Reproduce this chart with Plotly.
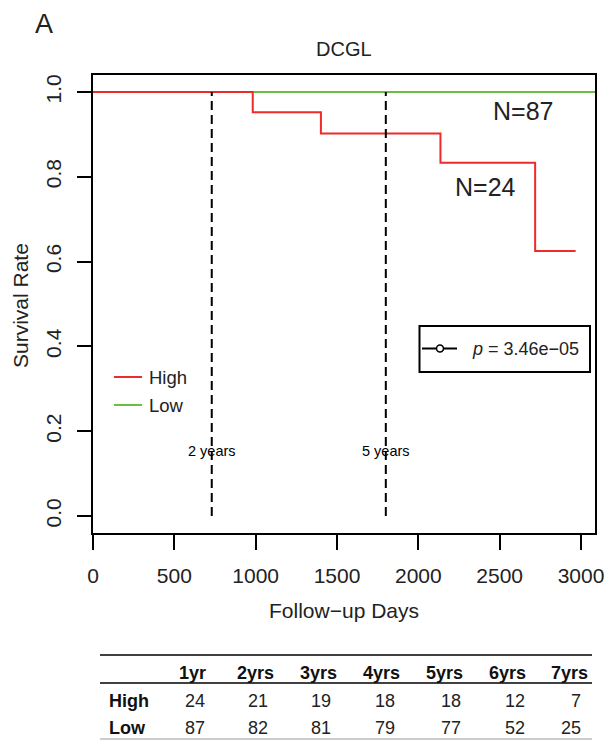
import plotly.graph_objects as go

# ---------------- data ----------------
high_days = [0, 982, 982, 1401, 1401, 2136, 2136, 2718, 2718, 2967]
high_surv = [1.0, 1.0, 0.952, 0.952, 0.902, 0.902, 0.833, 0.833, 0.625, 0.625]
low_days = [0, 3086]
low_surv = [1.0, 1.0]
ref_days = [730, 1800]
ref_labels = ["2 years", "5 years"]
n_labels = ["N=87", "N=24"]
p_text = "<i>p</i> = 3.46e−05"
x_ticks = [0, 500, 1000, 1500, 2000, 2500, 3000]
y_ticks = [0.0, 0.2, 0.4, 0.6, 0.8, 1.0]
table_cols = ["1yr", "2yrs", "3yrs", "4yrs", "5yrs", "6yrs", "7yrs"]
table_rows = ["High", "Low"]
table_high = [24, 21, 19, 18, 18, 12, 7]
table_low = [87, 82, 81, 79, 77, 52, 25]

RED = "#EE2A2A"
GREEN = "#6CBD45"
FONT = "Liberation Sans, Arial, sans-serif"

W, H = 609, 743
L, R, T, B = 93, 595, 75, 533  # plot box in pixels


def px2x(px):
    return (px - L) / (R - L)


def py2y(py):
    return (B - py) / (B - T)


fig = go.Figure()
fig.add_trace(go.Scatter(x=low_days, y=low_surv, mode="lines",
                         line=dict(color=GREEN, width=2), showlegend=False, hoverinfo="skip"))
fig.add_trace(go.Scatter(x=high_days, y=high_surv, mode="lines",
                         line=dict(color=RED, width=2), showlegend=False, hoverinfo="skip"))

shapes = []
annotations = []

# reference dashed lines
for d, lab in zip(ref_days, ref_labels):
    shapes.append(dict(type="line", xref="x", yref="y", x0=d, x1=d, y0=0, y1=1,
                       line=dict(color="black", width=2, dash="9px,5px")))
    annotations.append(dict(x=d, y=0.153, xref="x", yref="y", text=lab, showarrow=False,
                            font=dict(size=14.5, family=FONT, color="black"),
                            xanchor="center", yanchor="middle"))

# N labels
annotations.append(dict(x=px2x(523), y=py2y(111), xref="paper", yref="paper", text=n_labels[0],
                        showarrow=False, font=dict(size=25, family=FONT, color="#222"),
                        xanchor="center", yanchor="middle"))
annotations.append(dict(x=px2x(485), y=py2y(187), xref="paper", yref="paper", text=n_labels[1],
                        showarrow=False, font=dict(size=25, family=FONT, color="#222"),
                        xanchor="center", yanchor="middle"))

# legend High / Low
for i, (lab, col) in enumerate(zip(table_rows, [RED, GREEN])):
    yy = 377 + i * 28
    shapes.append(dict(type="line", xref="paper", yref="paper", x0=px2x(114), x1=px2x(142),
                       y0=py2y(yy), y1=py2y(yy), line=dict(color=col, width=2)))
    annotations.append(dict(x=px2x(147), y=py2y(yy), xref="paper", yref="paper", text=lab,
                            showarrow=False, font=dict(size=18.5, family=FONT, color="#222"),
                            xanchor="left", yanchor="middle"))

# p-value box
shapes.append(dict(type="rect", xref="paper", yref="paper", x0=px2x(419.5), x1=px2x(590),
                   y0=py2y(372), y1=py2y(326), line=dict(color="black", width=2)))
shapes.append(dict(type="line", xref="paper", yref="paper", x0=px2x(422), x1=px2x(457),
                   y0=py2y(348.5), y1=py2y(348.5), line=dict(color="black", width=2)))
shapes.append(dict(type="circle", xref="paper", yref="paper", x0=px2x(436.5), x1=px2x(443.5),
                   y0=py2y(352), y1=py2y(345), fillcolor="white", line=dict(color="black", width=1.5)))
annotations.append(dict(x=px2x(470), y=py2y(348.5), xref="paper", yref="paper", text=p_text,
                        showarrow=False, font=dict(size=18, family=FONT, color="#222"),
                        xanchor="left", yanchor="middle"))

# titles
annotations.append(dict(x=px2x(344), y=py2y(49), xref="paper", yref="paper", text="DCGL",
                        showarrow=False, font=dict(size=20, family=FONT, color="#222"),
                        xanchor="center", yanchor="middle"))
annotations.append(dict(x=px2x(33), y=py2y(24), xref="paper", yref="paper", text="A",
                        showarrow=False, font=dict(size=27, family=FONT, color="#222"),
                        xanchor="left", yanchor="middle"))
annotations.append(dict(x=px2x(20), y=py2y(306), xref="paper", yref="paper", text="Survival Rate",
                        showarrow=False, textangle=-90, font=dict(size=21, family=FONT, color="#222"),
                        xanchor="center", yanchor="middle"))
annotations.append(dict(x=px2x(344), y=py2y(610), xref="paper", yref="paper", text="Follow−up Days",
                        showarrow=False, font=dict(size=21, family=FONT, color="#222"),
                        xanchor="center", yanchor="middle"))

# table
col_right = [208, 276, 339, 402, 465, 528, 590]
num_right = [207, 270, 333, 397, 463, 527, 583]
shapes.append(dict(type="line", xref="paper", yref="paper", x0=px2x(100), x1=px2x(592),
                   y0=py2y(655), y1=py2y(655), line=dict(color="black", width=1.5)))
shapes.append(dict(type="line", xref="paper", yref="paper", x0=px2x(100), x1=px2x(592),
                   y0=py2y(683), y1=py2y(683), line=dict(color="black", width=1.5)))
shapes.append(dict(type="line", xref="paper", yref="paper", x0=px2x(100), x1=px2x(592),
                   y0=py2y(739), y1=py2y(739), line=dict(color="#BBBBBB", width=1.5)))
for c, xr in zip(table_cols, col_right):
    annotations.append(dict(x=px2x(xr), y=py2y(673), xref="paper", yref="paper", text="<b>%s</b>" % c,
                            showarrow=False, font=dict(size=18, family=FONT, color="#111"),
                            xanchor="right", yanchor="middle"))
for ri, (rl, vals) in enumerate(zip(table_rows, [table_high, table_low])):
    yy = 701 + ri * 26.5
    annotations.append(dict(x=px2x(107), y=py2y(yy), xref="paper", yref="paper", text="<b>%s</b>" % rl,
                            showarrow=False, font=dict(size=18, family=FONT, color="#111"),
                            xanchor="left", yanchor="middle"))
    for v, xr in zip(vals, num_right):
        annotations.append(dict(x=px2x(xr), y=py2y(yy), xref="paper", yref="paper", text=str(v),
                                showarrow=False, font=dict(size=18, family=FONT, color="#222"),
                                xanchor="right", yanchor="middle"))

fig.update_layout(
    width=W, height=H,
    margin=dict(l=L, r=W - R, t=T, b=H - B, pad=0, autoexpand=False),
    plot_bgcolor="white", paper_bgcolor="white",
    shapes=shapes, annotations=annotations,
    showlegend=False,
    xaxis=dict(range=[0, 3086], tickvals=x_ticks, ticktext=[str(v) for v in x_ticks],
               ticks="outside", ticklen=15, tickwidth=2, tickcolor="black",
               showline=True, linewidth=2, linecolor="black", mirror=True,
               showgrid=False, zeroline=False, ticklabelstandoff=8, automargin=False,
               tickfont=dict(size=21, family=FONT, color="#222")),
    yaxis=dict(range=[-0.04, 1.04], tickvals=y_ticks, ticktext=["%.1f" % v for v in y_ticks],
               tickangle=-90, ticks="outside", ticklen=14, tickwidth=2, tickcolor="black",
               showline=True, linewidth=2, linecolor="black", mirror=True,
               showgrid=False, zeroline=False, ticklabelstandoff=8, automargin=False,
               tickfont=dict(size=21, family=FONT, color="#222")),
)

fig.write_html("out.html")
